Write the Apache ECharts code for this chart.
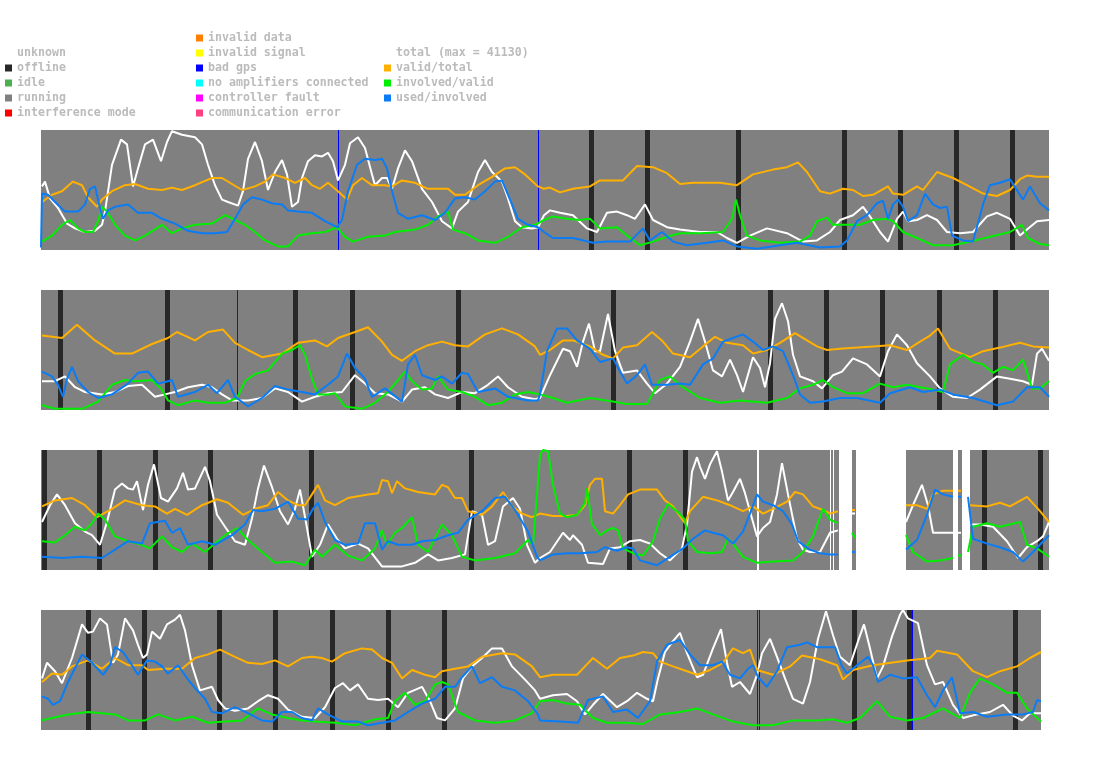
<!DOCTYPE html>
<html><head><meta charset="utf-8">
<script src="https://cdn.jsdelivr.net/npm/echarts@6/dist/echarts.min.js"></script>
<style>html,body{margin:0;padding:0;background:#fff}#c{width:1095px;height:764px}</style>
</head><body><div id="c"></div>
<script>
// x = 10-minute slot within the panel week, y = percent
const p1Total = [[1,53],[4,57],[9,43],[17,35],[26,22],[34,18],[44,15],[54,16],[61,21],[64,32],[71,71],[80,92],[86,88],[92,53],[97,68],[104,88],[112,92],[120,74],[126,90],[131,99],[141,96],[154,94],[161,88],[167,71],[174,54],[181,42],[187,40],[197,37],[202,49],[207,76],[214,90],[221,74],[227,50],[234,65],[241,75],[246,63],[251,36],[257,40],[261,60],[267,74],[274,79],[281,78],[287,81],[292,74],[297,58],[304,71],[309,89],[317,94],[324,85],[331,63],[334,54],[341,60],[346,60],[351,51],[357,68],[364,83],[371,74],[381,51],[391,40],[401,24],[411,18],[417,32],[427,40],[437,65],[444,75],[451,65],[461,57],[467,43],[474,24],[481,19],[491,18],[497,19],[503,29],[509,33],[519,31],[532,29],[546,18],[556,15],[566,31],[576,32],[586,29],[594,26],[604,38],[612,25],[626,19],[639,17],[659,15],[676,15],[686,10],[696,6],[709,12],[726,18],[746,14],[762,7],[776,8],[789,15],[799,25],[812,29],[822,36],[829,28],[839,15],[847,7],[856,26],[862,32],[867,24],[876,25],[886,29],[896,25],[906,15],[919,14],[932,15],[946,28],[956,31],[969,26],[979,12],[986,17],[996,24],[1008,25]];
const p1Valid = [[1,40],[11,46],[21,49],[32,57],[41,54],[47,44],[56,36],[61,42],[71,49],[84,54],[94,55],[107,51],[121,50],[131,52],[141,50],[154,54],[171,60],[181,60],[191,55],[201,50],[214,53],[224,57],[232,63],[244,60],[254,56],[264,60],[271,54],[279,51],[287,56],[297,49],[306,42],[312,54],[321,60],[331,54],[344,54],[351,53],[361,58],[374,56],[387,51],[407,51],[414,46],[424,46],[437,54],[451,61],[464,68],[474,69],[484,63],[497,53],[503,51],[509,52],[519,48],[532,51],[549,53],[559,58],[582,58],[596,70],[612,69],[626,64],[639,55],[652,56],[666,56],[679,56],[696,54],[712,63],[732,67],[746,69],[757,73],[766,65],[779,49],[789,47],[802,51],[812,50],[822,45],[832,46],[847,53],[852,47],[862,46],[876,53],[882,50],[896,65],[912,60],[926,54],[942,47],[956,45],[969,50],[979,59],[986,62],[996,61],[1008,61]];
const p1Involved = [[1,7],[11,12],[21,21],[29,25],[37,18],[44,15],[52,15],[57,24],[61,36],[66,32],[74,21],[84,12],[94,8],[104,12],[121,21],[131,14],[141,18],[154,21],[171,22],[184,29],[194,25],[204,21],[214,15],[224,8],[237,3],[247,3],[257,12],[271,14],[284,15],[296,19],[304,11],[312,7],[327,11],[344,12],[354,15],[374,17],[387,21],[397,28],[407,32],[412,17],[424,14],[437,8],[454,6],[467,11],[481,19],[494,21],[503,25],[512,28],[526,26],[539,25],[549,26],[559,18],[576,19],[586,12],[599,4],[612,7],[626,11],[639,14],[659,14],[682,15],[691,26],[695,42],[699,29],[706,12],[719,8],[739,6],[759,7],[769,12],[776,24],[786,27],[792,21],[806,21],[819,21],[832,25],[846,26],[852,24],[862,15],[876,10],[892,4],[912,4],[929,7],[949,11],[969,15],[981,21],[987,10],[999,5],[1008,4]];
const p1Used = [[0,2],[1,47],[7,46],[14,40],[24,32],[31,32],[37,32],[44,38],[49,51],[54,53],[59,35],[62,26],[67,33],[74,36],[87,38],[97,31],[111,31],[121,26],[134,22],[147,16],[161,14],[174,14],[186,15],[194,26],[202,38],[211,44],[221,42],[231,39],[241,38],[247,33],[257,32],[271,31],[284,24],[296,19],[301,25],[307,49],[316,71],[324,76],[334,75],[341,76],[346,68],[351,49],[357,31],[367,26],[381,29],[394,25],[404,31],[414,43],[424,44],[434,42],[444,49],[454,57],[461,58],[467,46],[477,26],[487,21],[497,19],[503,15],[512,10],[532,10],[552,6],[566,7],[589,7],[602,18],[609,8],[621,15],[632,7],[646,4],[666,6],[682,8],[696,3],[716,1],[739,4],[756,6],[779,2],[799,3],[806,8],[816,24],[826,29],[836,39],[842,41],[847,26],[852,38],[857,42],[862,36],[867,24],[876,29],[884,47],[892,38],[899,35],[906,36],[911,12],[922,8],[932,7],[942,38],[949,54],[959,56],[969,59],[982,42],[989,53],[999,39],[1008,33]];

const p2Total = [[1,24],[14,24],[24,28],[34,19],[44,15],[61,13],[74,15],[87,20],[101,21],[114,11],[124,13],[134,15],[147,19],[161,21],[171,19],[181,13],[191,8],[207,8],[221,10],[234,18],[247,15],[261,7],[274,11],[287,14],[301,15],[314,29],[324,22],[334,14],[347,13],[361,7],[371,17],[384,19],[394,13],[407,10],[421,15],[434,14],[447,21],[457,28],[467,19],[481,11],[494,9],[499,10],[509,29],[522,51],[529,49],[536,36],[542,57],[548,72],[554,49],[559,49],[567,80],[574,49],[582,31],[596,33],[606,22],[614,14],[626,22],[639,36],[649,57],[657,76],[664,57],[672,33],[681,28],[689,42],[696,29],[702,15],[712,44],[719,35],[724,19],[729,39],[734,76],[741,89],[747,74],[752,46],[759,28],[772,24],[781,18],[792,29],[801,32],[812,43],[826,38],[839,28],[847,49],[856,63],[866,54],[876,39],[889,28],[899,18],[912,11],[926,10],[939,17],[956,28],[969,26],[982,24],[991,21],[996,47],[1001,51],[1008,41]];
const p2Valid = [[1,62],[21,60],[36,71],[54,58],[74,47],[91,47],[111,55],[127,60],[136,65],[154,58],[167,65],[182,67],[194,56],[207,50],[221,44],[241,47],[257,56],[274,58],[286,53],[297,60],[314,65],[327,69],[341,57],[351,46],[361,41],[374,49],[387,54],[401,57],[414,54],[427,53],[444,63],[461,68],[477,63],[494,53],[499,46],[509,50],[522,58],[532,58],[549,53],[562,46],[572,43],[582,52],[596,54],[611,65],[622,57],[632,47],[649,44],[662,53],[674,61],[686,56],[702,54],[712,47],[726,50],[739,56],[754,64],[766,58],[776,53],[786,50],[799,51],[816,52],[832,53],[849,54],[866,50],[879,57],[889,62],[897,68],[909,51],[929,44],[942,49],[959,52],[979,56],[992,53],[1008,52]];
const p2Involved = [[1,4],[14,1],[41,1],[57,7],[71,21],[84,25],[94,24],[111,25],[121,17],[127,8],[137,4],[154,8],[167,6],[184,6],[196,10],[204,24],[214,30],[227,33],[241,47],[251,50],[259,54],[264,46],[271,26],[277,13],[287,13],[294,14],[304,3],[321,1],[334,6],[347,15],[357,25],[364,32],[371,24],[381,17],[391,18],[397,28],[407,17],[421,15],[434,11],[447,4],[461,6],[474,13],[487,15],[499,13],[512,10],[526,6],[549,10],[572,7],[586,5],[606,5],[612,14],[619,25],[629,28],[642,19],[659,10],[679,6],[699,8],[726,6],[746,10],[759,18],[772,21],[782,25],[792,19],[806,14],[822,14],[839,22],[852,19],[866,21],[879,19],[892,17],[902,15],[909,38],[922,46],[932,40],[942,38],[952,31],[962,36],[972,33],[982,42],[991,18],[999,18],[1008,24]];
const p2Used = [[1,32],[11,28],[17,21],[22,11],[26,26],[31,36],[37,24],[47,15],[57,10],[71,13],[87,22],[97,31],[107,32],[117,22],[127,24],[131,25],[137,11],[154,15],[167,21],[176,14],[187,25],[194,11],[207,3],[221,10],[234,20],[247,17],[261,15],[274,13],[287,21],[297,28],[306,47],[314,35],[324,26],[331,11],[344,18],[361,7],[367,38],[374,46],[381,29],[394,25],[401,28],[411,22],[421,31],[427,30],[437,15],[454,18],[467,11],[487,8],[497,8],[499,13],[506,49],[516,68],[526,68],[536,58],[549,51],[559,40],[572,43],[579,32],[586,22],[596,29],[604,38],[611,21],[626,21],[639,22],[649,21],[662,38],[672,43],[682,57],[692,60],[702,63],[712,57],[722,50],[732,53],[742,49],[752,29],[759,13],[769,6],[782,7],[799,10],[816,10],[839,6],[849,14],[869,19],[882,15],[899,17],[912,13],[932,10],[956,4],[972,7],[986,19],[999,19],[1008,11]];

const p3Total = [[1,40],[9,54],[16,63],[24,54],[34,39],[44,32],[51,29],[59,21],[66,40],[74,67],[81,72],[87,68],[92,67],[96,74],[102,50],[107,71],[113,88],[120,60],[127,57],[136,68],[142,81],[147,67],[154,68],[164,86],[169,74],[176,46],[184,36],[194,24],[204,21],[211,43],[217,68],[223,87],[231,69],[239,49],[247,38],[254,51],[259,67],[266,35],[271,11],[279,21],[287,38],[296,26],[304,18],[317,22],[327,18],[341,3],[361,3],[374,6],[387,13],[397,8],[411,10],[424,13],[431,49],[441,46],[447,21],[454,24],[462,53],[472,60],[479,51],[486,21],[494,6],[499,10],[509,15],[522,31],[529,25],[532,29],[541,21],[547,6],[562,5],[569,18],[579,19],[589,24],[599,25],[609,22],[619,14],[629,8],[641,18],[646,38],[651,82],[656,94],[659,86],[664,76],[669,88],[676,99],[681,82],[687,58],[692,65],[699,76],[704,64],[711,43],[716,28],[722,35],[729,40],[736,63],[741,89],[747,63],[756,26],[762,17],[769,15],[779,15],[789,31],[797,33],[798,'-'],[811,47],[814,47],[815,'-'],[865,40],[872,54],[881,71],[887,54],[892,31],[899,31],[912,31],[913,'-'],[917,31],[920,31],[921,'-'],[929,38],[939,38],[952,36],[966,24],[977,10],[986,19],[996,24],[1002,28],[1008,40]];
const p3Valid = [[1,53],[14,58],[31,60],[44,54],[56,44],[71,51],[84,58],[101,54],[114,53],[126,47],[134,51],[146,46],[161,54],[176,59],[187,56],[202,46],[214,51],[227,54],[237,65],[247,58],[257,54],[264,54],[271,63],[277,71],[284,58],[294,54],[307,60],[327,63],[337,64],[341,75],[347,74],[351,64],[356,74],[364,68],[377,65],[394,63],[401,71],[407,69],[414,60],[421,60],[427,49],[441,46],[451,53],[462,65],[471,53],[481,47],[491,44],[499,47],[512,45],[526,45],[536,46],[544,54],[549,71],[554,76],[561,76],[564,49],[572,47],[579,54],[587,63],[599,67],[616,67],[624,58],[632,53],[644,39],[649,49],[662,61],[676,58],[689,54],[702,49],[712,53],[722,47],[732,51],[746,57],[754,65],[762,63],[772,53],[782,50],[789,47],[797,49],[798,'-'],[811,50],[814,50],[815,'-'],[865,54],[876,54],[886,51],[892,63],[902,66],[912,66],[913,'-'],[917,66],[920,66],[921,'-'],[929,54],[946,53],[959,56],[969,53],[986,61],[999,49],[1008,40]];
const p3Involved = [[1,24],[14,23],[24,29],[34,36],[44,33],[51,39],[57,47],[64,42],[74,28],[87,24],[97,22],[109,18],[121,28],[131,19],[141,15],[151,22],[164,15],[174,22],[184,29],[196,35],[207,25],[221,15],[234,6],[251,7],[264,4],[274,17],[281,11],[294,21],[307,12],[321,8],[334,18],[341,33],[346,21],[354,31],[361,35],[371,44],[377,21],[387,15],[401,38],[411,29],[421,11],[434,8],[454,10],[474,14],[487,25],[492,21],[496,63],[499,96],[502,100],[507,99],[512,71],[519,47],[526,44],[536,46],[544,56],[546,68],[551,38],[554,35],[559,29],[566,33],[572,35],[577,33],[582,18],[592,14],[602,12],[612,24],[619,43],[627,55],[636,49],[644,42],[647,24],[656,15],[669,14],[681,15],[687,26],[692,22],[702,11],[716,6],[732,7],[752,8],[762,15],[772,28],[782,51],[789,42],[797,39],[798,'-'],[811,31],[814,27],[815,'-'],[865,29],[872,15],[886,7],[899,8],[912,10],[913,'-'],[917,12],[920,12],[921,'-'],[927,15],[932,36],[946,39],[959,36],[979,40],[986,21],[996,18],[1008,11]];
const p3Used = [[1,11],[21,10],[41,11],[61,10],[74,17],[87,24],[101,22],[109,39],[124,41],[131,31],[139,35],[147,21],[161,24],[174,21],[191,29],[204,38],[212,50],[221,49],[234,51],[247,57],[257,43],[266,42],[272,51],[277,56],[284,40],[294,25],[304,21],[317,22],[324,39],[334,39],[341,17],[347,24],[357,21],[371,21],[381,24],[394,25],[407,29],[417,31],[427,42],[441,49],[454,60],[464,61],[474,50],[487,32],[496,11],[499,8],[512,13],[526,14],[539,14],[556,15],[564,19],[576,16],[586,19],[592,18],[599,8],[616,4],[629,11],[642,18],[652,26],[664,33],[672,31],[682,29],[692,22],[702,32],[709,47],[716,63],[722,57],[732,54],[742,49],[751,38],[757,24],[769,17],[779,14],[789,13],[797,13],[798,'-'],[811,15],[814,15],[815,'-'],[865,17],[876,25],[886,46],[894,67],[902,63],[912,61],[913,'-'],[917,61],[920,61],[921,'-'],[927,61],[932,26],[946,22],[959,19],[972,15],[982,7],[992,15],[1008,29]];

const p4Total = [[1,43],[6,56],[14,49],[21,39],[31,60],[41,88],[47,81],[52,82],[59,93],[66,88],[72,56],[77,63],[84,93],[92,83],[97,71],[102,60],[106,63],[111,82],[119,76],[126,88],[134,92],[139,96],[144,83],[151,54],[159,33],[171,36],[177,25],[184,18],[194,16],[207,18],[217,24],[227,29],[237,26],[247,17],[261,11],[274,10],[284,19],[294,35],[302,39],[309,33],[317,38],[327,26],[337,25],[347,26],[357,19],[367,31],[381,36],[389,24],[396,10],[404,8],[414,18],[422,43],[431,53],[441,60],[451,68],[461,68],[471,53],[484,42],[494,33],[499,26],[512,29],[526,30],[536,24],[544,13],[552,21],[562,30],[576,19],[586,24],[596,31],[606,26],[612,24],[617,43],[624,65],[632,74],[639,81],[646,64],[656,44],[662,46],[672,68],[680,84],[686,56],[691,36],[699,40],[709,30],[716,46],[721,64],[729,76],[736,61],[744,43],[752,26],[762,22],[769,40],[777,76],[785,99],[792,79],[799,61],[809,54],[817,74],[823,88],[829,68],[836,43],[842,53],[851,78],[859,96],[862,100],[867,93],[877,89],[886,54],[894,38],[902,40],[912,21],[922,10],[936,13],[949,15],[962,21],[972,12],[981,8],[989,14],[1000,14]];
const p4Valid = [[1,40],[11,47],[21,46],[31,53],[47,58],[61,51],[74,60],[87,54],[101,54],[107,50],[124,51],[141,51],[154,60],[167,63],[179,67],[194,61],[207,56],[221,55],[234,58],[247,53],[261,60],[271,61],[281,60],[291,57],[304,64],[321,68],[331,67],[341,60],[351,56],[361,43],[371,50],[384,46],[394,44],[401,49],[414,51],[427,53],[441,61],[461,64],[474,63],[491,53],[499,44],[512,46],[536,46],[544,53],[552,60],[566,51],[579,60],[592,62],[602,65],[612,64],[619,57],[632,53],[646,49],[656,46],[669,50],[682,56],[692,68],[702,64],[709,67],[716,50],[732,46],[749,53],[761,62],[779,59],[796,54],[802,42],[812,50],[832,54],[866,58],[889,60],[896,66],[916,63],[932,49],[946,44],[959,49],[976,53],[989,60],[1000,65]];
const p4Involved = [[1,8],[11,10],[27,13],[47,15],[61,14],[74,13],[87,8],[104,8],[117,13],[134,8],[151,11],[167,6],[184,7],[201,8],[217,18],[231,13],[247,10],[261,8],[274,7],[294,6],[314,4],[334,9],[347,10],[354,24],[364,31],[374,21],[384,24],[394,38],[401,40],[407,38],[417,15],[434,8],[454,6],[474,8],[491,14],[499,24],[512,25],[526,22],[539,21],[552,10],[566,6],[586,6],[602,5],[619,13],[639,15],[656,18],[672,13],[692,7],[712,4],[732,4],[752,8],[776,8],[792,9],[806,6],[819,10],[836,24],[849,11],[866,8],[882,10],[902,18],[919,10],[929,31],[939,43],[952,38],[966,31],[976,31],[986,18],[1000,7]];
const p4Used = [[1,28],[7,26],[12,21],[19,24],[27,40],[41,63],[51,56],[62,46],[69,54],[74,69],[82,65],[91,54],[97,46],[106,58],[114,57],[121,53],[127,47],[137,54],[147,42],[154,35],[164,26],[171,15],[181,14],[194,19],[207,14],[221,8],[231,7],[241,15],[251,15],[261,10],[271,8],[277,18],[287,13],[301,7],[317,7],[327,4],[341,6],[354,8],[367,15],[381,22],[394,26],[404,36],[414,36],[421,44],[431,53],[439,39],[451,44],[461,36],[474,33],[487,24],[497,13],[499,8],[519,7],[537,6],[547,25],[562,28],[572,15],[586,17],[597,10],[609,24],[616,57],[626,71],[639,75],[649,63],[659,54],[672,54],[681,57],[689,46],[699,43],[707,51],[712,54],[717,44],[726,36],[736,49],[746,69],[759,71],[766,73],[776,69],[786,69],[794,69],[801,53],[806,47],[816,54],[827,61],[832,54],[837,40],[849,46],[862,43],[876,44],[886,29],[894,19],[902,33],[911,44],[919,14],[932,15],[946,11],[966,13],[982,13],[992,15],[996,25],[1000,24]];

// state intervals [start slot, end slot]
const p1Running = [[0,1008]];
const p1Offline = [[548,553],[604,609],[695,700],[801,806],[857,862],[913,918],[969,974]];
const p1BadGps = [[297,298],[497,498]];
const p2Running = [[0,1008]];
const p2Offline = [[17,22],[124,129],[196,197],[252,257],[309,314],[415,420],[570,575],[727,732],[783,788],[839,844],[896,901],[952,957]];
const p3Running = [[0,1008]];
const p3Offline = [[1,6],[56,61],[112,117],[167,172],[268,273],[428,433],[586,591],[642,647],[941,946],[997,1002]];
const p3Unknown = [[716,718],[789,790],[792,793],[798,811],[815,865],[912,917],[921,929]];
const p4Running = [[0,1000]];
const p4Offline = [[45,50],[101,106],[176,181],[232,237],[289,294],[345,350],[401,406],[716,717],[718,719],[811,816],[866,871],[972,977]];
const p4BadGps = [[871,872]];

const stateNamesCol1 = ['unknown','offline','idle','running','interference mode'];
const stateNamesCol2 = ['invalid data','invalid signal','bad gps','no amplifiers connected','controller fault','communication error'];
const lineNames = ['total (max = 41130)','valid/total','involved/valid','used/involved'];

const stateColors = {
  'unknown':'#ffffff','offline':'#282828','idle':'#4caf50','running':'#808080','interference mode':'#ff0000',
  'invalid data':'#ff8000','invalid signal':'#ffff00','bad gps':'#0000ff','no amplifiers connected':'#00ffff',
  'controller fault':'#ff00ff','communication error':'#ff4080'
};
const lineColors = ['#ffffff','#ffb000','#00ee00','#0a7cf5'];

const panels = [
  {top:130, width:1008, max:1008, lines:[p1Total,p1Valid,p1Involved,p1Used], states:[['running',p1Running],['offline',p1Offline],['bad gps',p1BadGps]]},
  {top:290, width:1008, max:1008, lines:[p2Total,p2Valid,p2Involved,p2Used], states:[['running',p2Running],['offline',p2Offline]]},
  {top:450, width:1008, max:1008, lines:[p3Total,p3Valid,p3Involved,p3Used], states:[['running',p3Running],['offline',p3Offline],['unknown',p3Unknown]]},
  {top:610, width:1000, max:1000, lines:[p4Total,p4Valid,p4Involved,p4Used], states:[['running',p4Running],['offline',p4Offline],['bad gps',p4BadGps]]}
];

function renderState(params, api){
  const a = api.coord([api.value(0), 100]);
  const b = api.coord([api.value(1), 0]);
  return {type:'rect', shape:{x:a[0], y:a[1], width:Math.max(1, b[0]-a[0]), height:b[1]-a[1]}, style:{fill: api.visual('color')}};
}

const grids = [], xAxes = [], yAxes = [], series = [];
const present = new Set();
panels.forEach((p, i) => {
  grids.push({left:41, top:p.top, width:p.width, height:120, containLabel:false});
  xAxes.push({type:'value', gridIndex:i, min:0, max:p.max, show:false});
  yAxes.push({type:'value', gridIndex:i, min:0, max:100, show:false});
  p.states.forEach(([name, data]) => {
    present.add(name);
    series.push({
      type:'custom', name, xAxisIndex:i, yAxisIndex:i, z:1, silent:true,
      itemStyle:{color:stateColors[name]},
      renderItem:renderState, encode:{x:[0,1], y:2},
      data:data.map(d => [d[0], d[1], 0])
    });
  });
  p.lines.forEach((data, k) => {
    series.push({
      type:'line', name:lineNames[k], xAxisIndex:i, yAxisIndex:i, z:3, silent:true,
      showSymbol:false, symbol:'none', connectNulls:false,
      itemStyle:{color:lineColors[k]}, lineStyle:{color:lineColors[k], width:2},
      data
    });
  });
});
stateNamesCol1.concat(stateNamesCol2).forEach(name => {
  if (!present.has(name)) {
    series.push({type:'line', name, xAxisIndex:0, yAxisIndex:0, data:[], showSymbol:false,
      itemStyle:{color:stateColors[name]}, lineStyle:{color:stateColors[name]}});
  }
});

const legendCommon = {
  orient:'vertical', icon:'rect', itemWidth:7, itemHeight:7, itemGap:0, padding:0, selectedMode:false,
  textStyle:{color:'#bbbbbb', fontFamily:'DejaVu Sans Mono', fontWeight:'bold', fontSize:11.6, lineHeight:15}
};

const chart = echarts.init(document.getElementById('c'), null, {renderer:'canvas'});
chart.setOption({
  animation:false,
  backgroundColor:'#ffffff',
  grid:grids, xAxis:xAxes, yAxis:yAxes,
  legend:[
    Object.assign({left:5, top:45.5, data:stateNamesCol1}, legendCommon),
    Object.assign({left:196, top:30.5, data:stateNamesCol2}, legendCommon),
    Object.assign({left:384, top:45.5, data:lineNames}, legendCommon)
  ],
  series
});
</script></body></html>
